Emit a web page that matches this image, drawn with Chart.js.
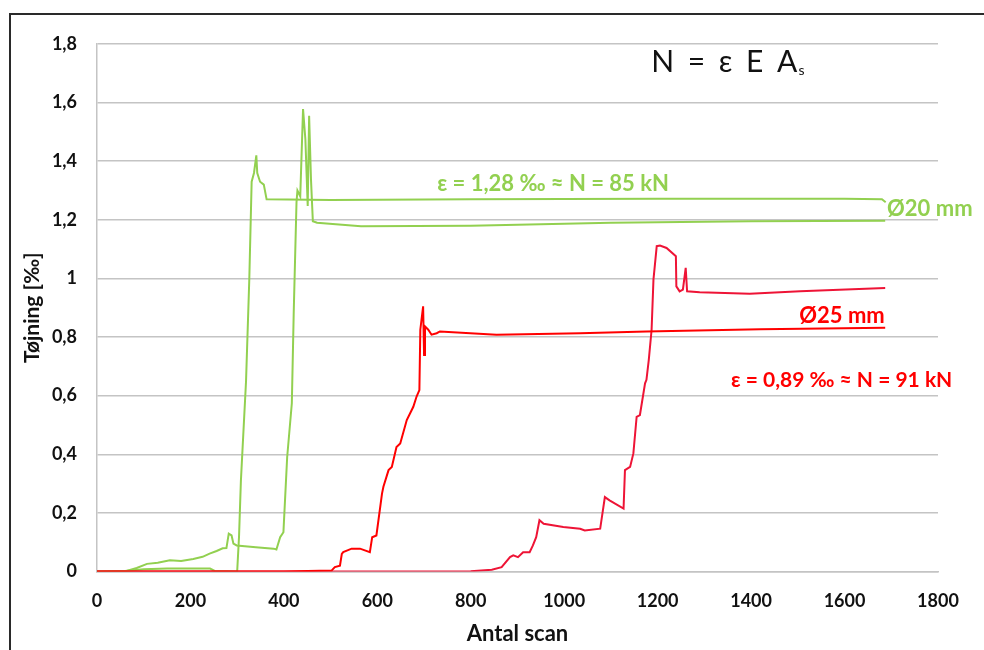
<!DOCTYPE html>
<html>
<head>
<meta charset="utf-8">
<script src="https://cdn.jsdelivr.net/npm/chart.js@4.4.1/dist/chart.umd.min.js"></script>
<style>
  body { margin: 0; background: #fff; overflow: hidden; }
  #wrap { position: relative; width: 984px; height: 650px; overflow: hidden; }
  #frame { position: absolute; left: 9px; top: 13px; width: 1000px; height: 700px; border: 2px solid #2a2a2a; }
  canvas { position: absolute; left: 0; top: 0; }
</style>
</head>
<body>
<div id="wrap">
  <div id="frame"></div>
  <canvas id="strainChart" width="984" height="650"></canvas>
</div>
<script>
// Data: [scan no., strain ‰]
const xTicks = [0, 200, 400, 600, 800, 1000, 1200, 1400, 1600, 1800];
const yTickLabels = ['0', '0,2', '0,4', '0,6', '0,8', '1', '1,2', '1,4', '1,6', '1,8'];

const green20a = [
  [0, 0], [60, 0.002], [100, 0.008], [150, 0.01], [200, 0.01], [242, 0.01], [252, 0.002],
  [300, 0], [304, 0.12], [308, 0.31], [319, 0.65], [326, 1.0], [331, 1.33], [336, 1.36],
  [341, 1.42], [343, 1.36], [349, 1.33], [357, 1.32], [363, 1.27], [500, 1.268],
  [800, 1.27], [1200, 1.272], [1600, 1.272], [1680, 1.27], [1688, 1.26]
];
const green20b = [
  [0, 0], [63, 0.002], [85, 0.012], [107, 0.026], [130, 0.03], [156, 0.038], [180, 0.036],
  [206, 0.043], [226, 0.05], [241, 0.061], [256, 0.07], [269, 0.079], [277, 0.08],
  [282, 0.129], [288, 0.123], [292, 0.095], [299, 0.089], [340, 0.083], [378, 0.078],
  [384, 0.075], [392, 0.117], [399, 0.134], [407, 0.39], [417, 0.574], [421, 0.88],
  [427, 1.26], [429, 1.3], [435, 1.28], [441, 1.578], [446, 1.475], [451, 1.247],
  [454, 1.555], [458, 1.338], [462, 1.195], [471, 1.19], [565, 1.178], [800, 1.18],
  [1100, 1.19], [1400, 1.195], [1687, 1.197]
];
const red25a = [
  [0, 0], [400, 0], [502, 0.003], [509, 0.015], [520, 0.02], [524, 0.06], [527, 0.066],
  [545, 0.078], [563, 0.078], [584, 0.066], [589, 0.117], [598, 0.123], [610, 0.266],
  [613, 0.289], [624, 0.346], [631, 0.357], [641, 0.425], [649, 0.437], [663, 0.517],
  [677, 0.562], [684, 0.597], [690, 0.619], [692, 0.825], [698, 0.905], [700, 0.739],
  [702, 0.836], [709, 0.825], [716, 0.808], [727, 0.813], [734, 0.819], [855, 0.808],
  [1034, 0.813], [1176, 0.819], [1420, 0.827], [1687, 0.832]
];
const red25b = [
  [0, 0], [700, 0], [800, 0.001], [845, 0.006], [866, 0.015], [884, 0.049], [891, 0.055],
  [901, 0.049], [912, 0.066], [926, 0.066], [933, 0.089], [940, 0.117], [947, 0.175],
  [956, 0.163], [998, 0.152], [1034, 0.146], [1044, 0.14], [1077, 0.146], [1087, 0.254],
  [1097, 0.243], [1127, 0.215], [1130, 0.346], [1141, 0.357], [1148, 0.403], [1155, 0.528],
  [1162, 0.534], [1173, 0.642], [1176, 0.654], [1181, 0.722], [1187, 0.825], [1191, 0.996],
  [1198, 1.11], [1205, 1.112], [1219, 1.104], [1239, 1.076], [1240, 0.973], [1247, 0.956],
  [1254, 0.962], [1260, 1.036], [1263, 0.956], [1290, 0.953], [1397, 0.948], [1505, 0.956],
  [1687, 0.967]
];

const GREEN = '#92D050';
const RED = '#FF0000';
const RED2 = '#EE1436';

// texts placed in data coordinates
const notes = [
  { text: 'N = ε E A', sub: 's', x: 1186, y: 1.737, color: '#111', font: '400 30px Lato', spacing: 3 },
  { text: 'ε = 1,28 ‰ ≈ N = 85 kN', x: 728, y: 1.323, color: GREEN, font: '700 22px Lato' },
  { text: 'Ø20 mm', x: 1691, y: 1.238, color: GREEN, font: '700 22px Lato' },
  { text: 'Ø25 mm', x: 1503, y: 0.873, color: RED, font: '700 22px Lato' },
  { text: 'ε = 0,89 ‰ ≈ N = 91 kN', x: 1357, y: 0.654, color: RED, font: '700 21px Lato' }
];

const notesPlugin = {
  id: 'notes',
  afterDatasetsDraw(chart) {
    const { ctx, scales: { x, y } } = chart;
    ctx.save();
    ctx.textBaseline = 'middle';
    ctx.textAlign = 'left';
    notes.forEach(n => {
      const px = x.getPixelForValue(n.x);
      const py = y.getPixelForValue(n.y);
      const sp = n.spacing || 0;
      ctx.font = n.font;
      ctx.letterSpacing = sp + 'px';
      ctx.fillStyle = n.color;
      ctx.fillText(n.text, px, py);
      if (n.sub) {
        const w = ctx.measureText(n.text).width - sp;
        ctx.letterSpacing = '0px';
        ctx.font = '400 14px Lato';
        ctx.fillText(n.sub, px + w + 1, py + 8);
      }
    });
    ctx.restore();
  }
};

const line = (data, color) => ({
  data: data.map(p => ({ x: p[0], y: p[1] })),
  borderColor: color,
  backgroundColor: color,
  borderWidth: 2,
  pointRadius: 0,
  tension: 0,
  fill: false
});

new Chart(document.getElementById('strainChart'), {
  type: 'line',
  data: {
    datasets: [line(red25a, RED), line(red25b, RED2), line(green20b, GREEN), line(green20a, GREEN)]
  },
  options: {
    responsive: false,
    animation: false,
    layout: { padding: { left: 10, right: 46, top: 44, bottom: 0 } },
    plugins: { legend: { display: false }, tooltip: { enabled: false } },
    scales: {
      x: {
        type: 'linear',
        min: 0,
        max: 1800,
        afterBuildTicks: s => { s.ticks = xTicks.map(v => ({ value: v })); },
        afterFit: s => { s.height = 78.5; },
        grid: { display: false, drawTicks: false },
        border: { display: true, color: '#c4c4c4', width: 1.5 },
        ticks: {
          color: '#111', padding: 19, maxRotation: 0, autoSkip: false,
          font: { family: 'Lato', weight: '700', size: 18 },
          callback: (v, i) => String(xTicks[i])
        },
        title: { display: true, text: 'Antal scan', color: '#111', padding: { bottom: 3 }, font: { family: 'Lato', weight: '700', size: 22 } }
      },
      y: {
        min: 0,
        max: 1.8,
        afterBuildTicks: s => { s.ticks = yTickLabels.map((t, i) => ({ value: i * 0.2 })); },
        afterFit: s => { s.width = 87; },
        grid: { color: '#c4c4c4', lineWidth: 1.5, drawTicks: false },
        border: { display: true, color: '#c4c4c4', width: 1.5 },
        ticks: {
          color: '#111', padding: 20, autoSkip: false,
          font: { family: 'Lato', weight: '700', size: 18 },
          callback: (v, i) => yTickLabels[i]
        },
        title: { display: true, text: 'Tøjning [‰]', color: '#111', padding: { top: 10 }, font: { family: 'Lato', weight: '700', size: 21 } }
      }
    }
  },
  plugins: [notesPlugin]
});
</script>
</body>
</html>
